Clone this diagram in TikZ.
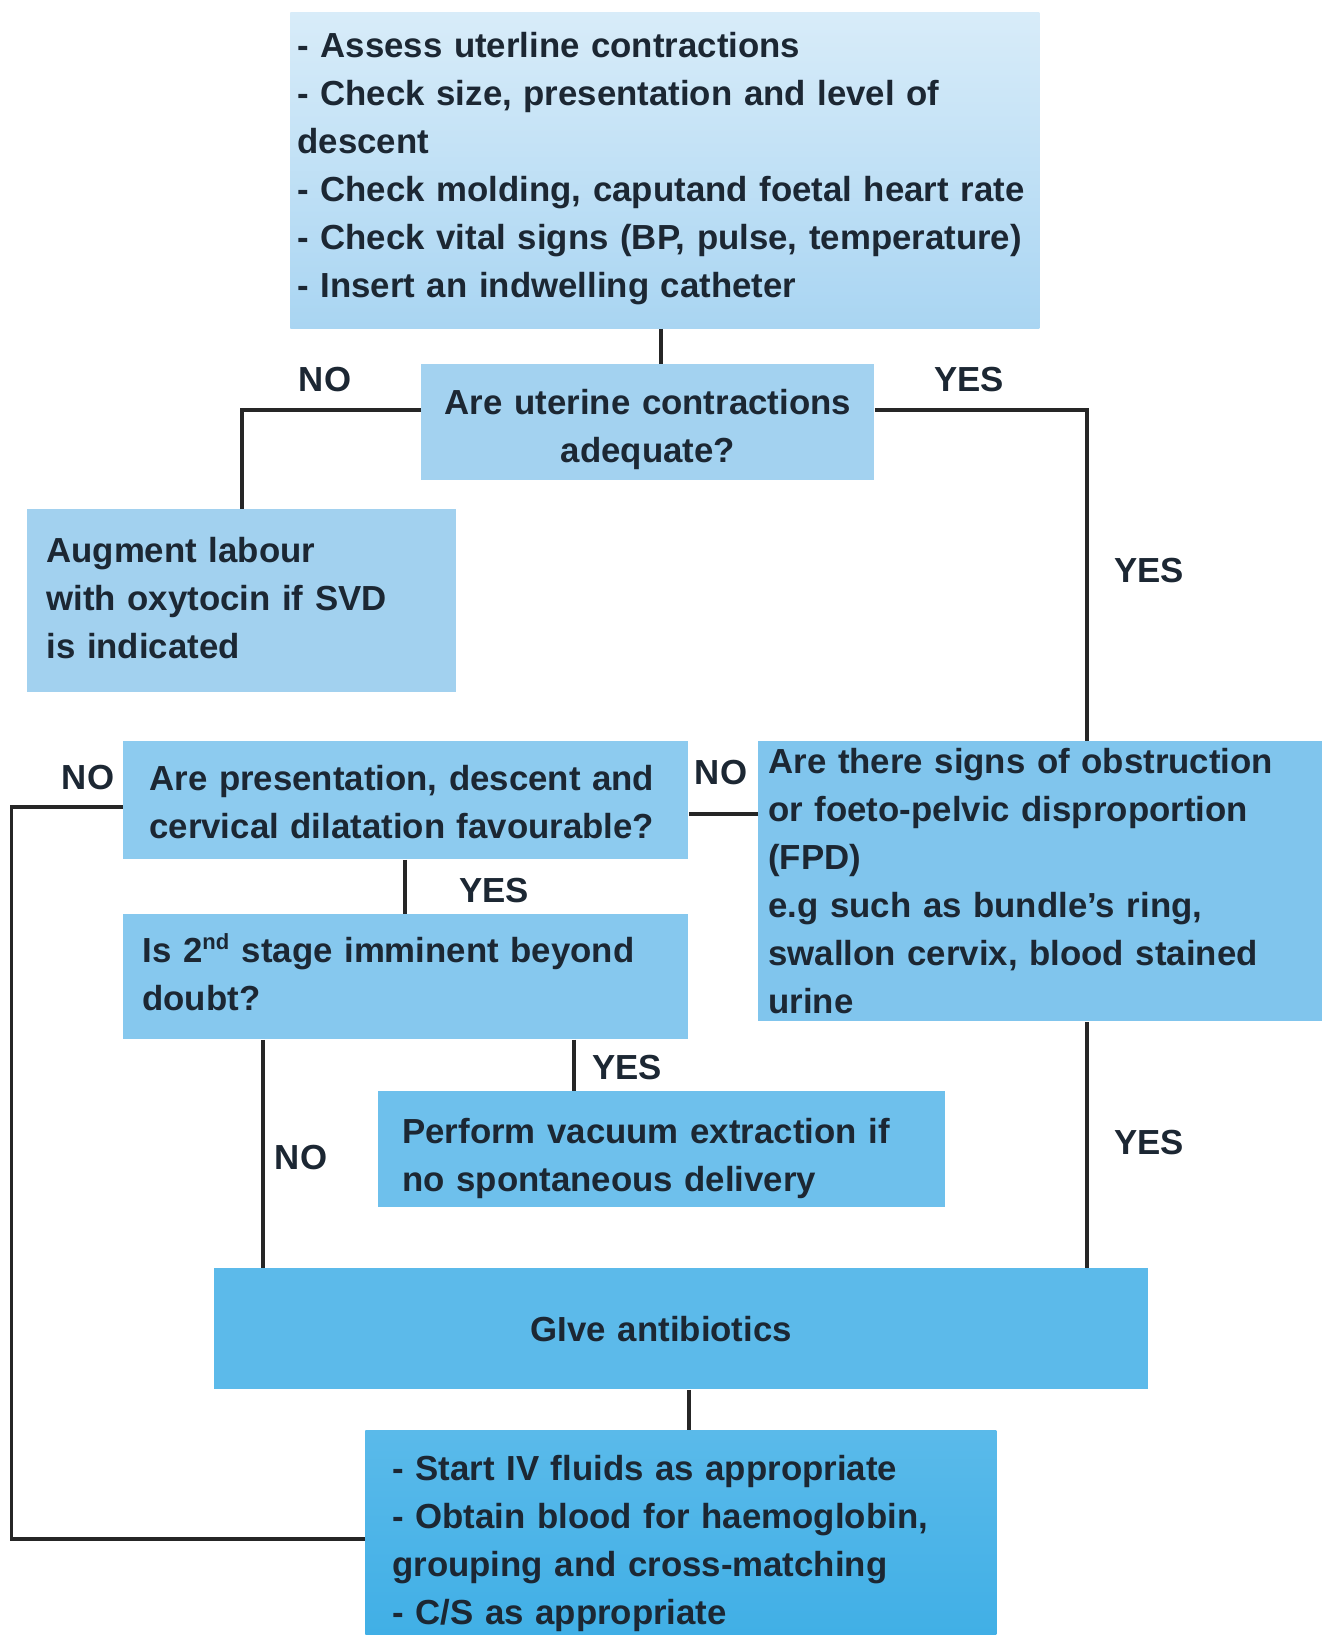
\documentclass[tikz,border=0pt]{standalone}
\usepackage{fontspec}
\setmainfont{Liberation Sans}
\definecolor{inkdark}{HTML}{1C2733}
\definecolor{wire}{HTML}{262626}
\definecolor{topA}{HTML}{D8ECF9}
\definecolor{topB}{HTML}{A9D5F2}
\definecolor{fillB}{HTML}{A3D2F0}
\definecolor{fillC}{HTML}{A2D1EF}
\definecolor{fillD}{HTML}{8DCBEF}
\definecolor{fillE}{HTML}{86C8EE}
\definecolor{fillF}{HTML}{80C5ED}
\definecolor{fillG}{HTML}{6EC0EC}
\definecolor{fillH}{HTML}{5CBAEA}
\definecolor{fillIa}{HTML}{5ABAEA}
\definecolor{fillIb}{HTML}{40AFE6}
% lines of a box, set without wrapping
\newcommand\boxlines[1]{\begin{tabular}{@{}l@{}}#1\end{tabular}}
% pushes a box's text block a little lower
\newcommand\sinktext[1]{\rule{0pt}{\dimexpr 16.8pt+#1\relax}}
\begin{document}
\begin{tikzpicture}[x=0.5pt,y=-0.5pt,
  txt/.style={font=\bfseries\fontsize{17.4}{24}\selectfont, text=inkdark},
  box/.style={txt, draw=none, anchor=north west, inner ysep=0pt, align=left},
  lbl/.style={txt, inner sep=0pt},
  link/.style={draw=wire, line width=1.7pt}]
\fill[white] (0,0) rectangle (1322,1635);
\useasboundingbox (0,0) rectangle (1322,1635);

% boxes
\node[box, top color=topA, bottom color=topB, minimum width=374.5pt, minimum height=158pt,
      inner xsep=3.5pt, text width=367.5pt] (assess) at (290,12)
  {\boxlines{- Assess uterline contractions\\
   - Check size, presentation and level of\\
   descent\\
   - Check molding, caputand foetal heart rate\\
   - Check vital signs (BP, pulse, temperature)\\
   - Insert an indwelling catheter\rule[-10pt]{0pt}{0pt}}};

\node[box, fill=fillB, minimum width=226.5pt, minimum height=58pt,
      inner xsep=5pt, text width=216.5pt, align=center] (adequate) at (421,364)
  {\rule{0pt}{19.5pt}Are uterine contractions\\ adequate?};

\node[box, fill=fillC, minimum width=214.5pt, minimum height=91.5pt,
      inner xsep=9.5pt, text width=195.5pt] (augment) at (27,509)
  {\boxlines{Augment labour\\ with oxytocin if SVD\\ is indicated}};

\node[box, fill=fillD, minimum width=282.5pt, minimum height=59pt,
      inner xsep=13pt, text width=256.5pt] (favour) at (123,741)
  {\boxlines{\sinktext{4pt}Are presentation, descent and\\ cervical dilatation favourable?}};

\node[box, fill=fillE, minimum width=282.5pt, minimum height=62.5pt,
      inner xsep=9.5pt, text width=263.5pt] (second) at (123,914)
  {\boxlines{Is 2\textsuperscript{\fontsize{11}{11}\selectfont nd} stage imminent beyond\\ doubt?}};

\node[box, fill=fillF, minimum width=282pt, minimum height=140pt,
      inner xsep=5pt, text width=272pt] (obstruct) at (758,741)
  {Are there signs of obstruction\\ or foeto-pelvic disproportion\\ (FPD)\\
   e.g such as bundle’s ring,\\ swallon cervix, blood stained\\ urine};

\node[box, fill=fillG, minimum width=283.5pt, minimum height=58pt,
      inner xsep=12pt, text width=259.5pt] (vacuum) at (378,1091)
  {\boxlines{\sinktext{8pt}Perform vacuum extraction if\\ no spontaneous delivery}};

\node[box, fill=fillH, minimum width=467pt, minimum height=60.5pt,
      inner xsep=5pt, text width=457pt, align=center] (abx) at (214,1268)
  {\hspace*{-20pt}GIve antibiotics};

\node[box, top color=fillIa, bottom color=fillIb, minimum width=315.5pt, minimum height=102.5pt,
      inner xsep=13.5pt, text width=288.5pt] (fluids) at (365,1430)
  {\boxlines{\sinktext{8pt}- Start IV fluids as appropriate\\
   - Obtain blood for haemoglobin,\\
   grouping and cross-matching\\
   - C/S as appropriate}};

% connector guide positions
\coordinate (xTop) at (661,0);
\coordinate (xRight) at (1087,0);
\coordinate (xLeft) at (11.5,0);
\coordinate (xYesQ) at (405,0);
\coordinate (xNoS) at (263,0);
\coordinate (xYesS) at (574,0);
\coordinate (xAbx) at (689,0);
\coordinate (yQ1) at (0,410);
\coordinate (yFav) at (0,807);
\coordinate (yObs) at (0,814);
\coordinate (yBot) at (0,1539);

% connectors
\draw[link] (xTop |- assess.south) -- (xTop |- adequate.north);
\draw[link] (adequate.west |- yQ1) -| (augment.north);
\draw[link] (adequate.east |- yQ1) -| (xRight |- obstruct.north);
\draw[link] (obstruct.west |- yObs) -- (favour.east |- yObs);
\draw[link] (favour.west |- yFav) -| (xLeft |- yBot) -- (fluids.west |- yBot);
\draw[link] (xYesQ |- favour.south) -- (xYesQ |- second.north);
\draw[link] (xNoS |- second.south) -- (xNoS |- abx.north);
\draw[link] (xYesS |- second.south) -- (xYesS |- vacuum.north);
\draw[link] (xRight |- obstruct.south) -- (xRight |- abx.north);
\draw[link] (xAbx |- abx.south) -- (xAbx |- fluids.north);

% branch labels
\node[lbl] (noA) at (325,380) {NO};
\node[lbl] (yesA) at (969,380) {YES};
\node[lbl] (yesB) at (1149,571) {YES};
\node[lbl] (noB) at (88,778) {NO};
\node[lbl] (noC) at (721,773) {NO};
\node[lbl] (yesC) at (494,891) {YES};
\node[lbl] (noD) at (301,1158) {NO};
\node[lbl] (yesD) at (627,1068) {YES};
\node[lbl] (yesE) at (1149,1143) {YES};
\end{tikzpicture}
\end{document}
